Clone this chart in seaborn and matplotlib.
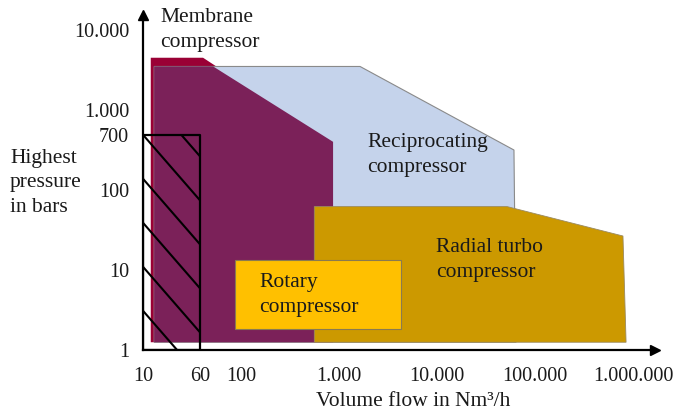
import numpy as np
import pandas as pd
import matplotlib
matplotlib.use("Agg")
import matplotlib.pyplot as plt
import matplotlib.transforms as mtransforms
from matplotlib.patches import Rectangle, Polygon
import seaborn as sns

# ---------------- data ----------------
membrane_x = [12, 12, 41, 870, 870]
membrane_y = [1.25, 4500, 4500, 390, 1.25]

recip_x = [13, 13, 1640, 61000, 64000]
recip_y = [1.25, 3500, 3500, 316, 1.25]

piston_x = [13, 13, 52, 870, 870]
piston_y = [1.25, 3500, 3500, 400, 1.25]

radial_x = [560, 560, 52000, 790000, 850000]
radial_y = [1.25, 62, 62, 26.6, 1.25]

rotary_x = [87, 4300]
rotary_y = [1.83, 13.3]

hatch_x = [10, 38]
hatch_y = [1, 490]

xtick_vals = [10, 38, 100, 1000, 10000, 100000, 1000000]
xtick_labels = ["10", "60", "100", "1.000", "10.000", "100.000", "1.000.000"]
ytick_vals = [1, 10, 100, 490, 1000, 10000]
ytick_labels = ["1", "10", "100", "700", "1.000", "10.000"]

# ---------------- style ----------------
sns.set_theme(style="white")
plt.rcParams['font.family'] = ['Liberation Serif', 'DejaVu Serif']
FS = 15.5
TFS = 14.5
TXT = "#1a1a1a"
LS = 1.38

fig = plt.figure(figsize=(6.78, 4.16), dpi=100)
W, H = 678, 416
ax = fig.add_axes([143 / W, 66 / H, 512 / W, 335 / H])
ax.set_xscale("log")
ax.set_yscale("log")
ax.set_xlim(10, 10 ** (1 + 512 / 98))
ax.set_ylim(1, 10 ** (335 / 80))

# polygons
ax.add_patch(Polygon(list(zip(membrane_x, membrane_y)), closed=True,
                     facecolor="#9a0035", edgecolor="none", zorder=1))
ax.add_patch(Polygon(list(zip(recip_x, recip_y)), closed=True,
                     facecolor="#c5d3eb", edgecolor="#8a8a8a", lw=0.8, zorder=2))
ax.add_patch(Polygon(list(zip(piston_x, piston_y)), closed=True,
                     facecolor="#7b2159", edgecolor="none", zorder=3))
ax.add_patch(Polygon(list(zip(radial_x, radial_y)), closed=True,
                     facecolor="#cc9900", edgecolor="#9a8a60", lw=0.6, zorder=4))
ax.add_patch(Rectangle((rotary_x[0], rotary_y[0]), rotary_x[1] - rotary_x[0],
                       rotary_y[1] - rotary_y[0], facecolor="#ffc000",
                       edgecolor="#8a7a50", lw=0.8, zorder=5))

# hatched box outline (seaborn)
box = pd.DataFrame({
    "x": [hatch_x[0], hatch_x[0], hatch_x[1], hatch_x[1], hatch_x[0]],
    "y": [hatch_y[0], hatch_y[1], hatch_y[1], hatch_y[0], hatch_y[0]],
})
sns.lineplot(data=box, x="x", y="y", sort=False, estimator=None,
             color="black", lw=1.6, ax=ax, zorder=6)
clip_rect = Rectangle((hatch_x[0], hatch_y[0]), hatch_x[1] - hatch_x[0],
                      hatch_y[1] - hatch_y[0], facecolor="none",
                      edgecolor="none", transform=ax.transData)
ax.add_patch(clip_rect)

# hatch lines in pixel space
p0 = ax.transData.transform((hatch_x[0], hatch_y[0]))
p1 = ax.transData.transform((hatch_x[1], hatch_y[1]))
slope = 1.15
spacing = 44
for k in range(-3, 8):
    ys = p1[1] - spacing * k
    xa, xb = p0[0] - 5, p1[0] + 60
    ya = ys + slope * 5
    yb = ys - slope * (xb - p0[0])
    ln, = ax.plot([xa, xb], [ya, yb], color="black", lw=1.5,
                  transform=mtransforms.IdentityTransform(), zorder=6)
    ln.set_clip_path(clip_rect)

# axes styling
for s in ["top", "right"]:
    ax.spines[s].set_visible(False)
for s in ["left", "bottom"]:
    ax.spines[s].set_color("black")
    ax.spines[s].set_linewidth(1.6)
    ax.spines[s].set_zorder(7)
ax.xaxis.set_minor_locator(matplotlib.ticker.NullLocator())
ax.yaxis.set_minor_locator(matplotlib.ticker.NullLocator())
ax.set_xticks(xtick_vals)
ax.set_xticklabels(xtick_labels)
ax.set_yticks(ytick_vals)
ax.set_yticklabels(ytick_labels)
ax.tick_params(axis="both", direction="inout", length=12, width=1.6,
               colors="black", labelcolor=TXT, labelsize=TFS)
ax.tick_params(axis="y", pad=4)
ax.tick_params(axis="x", pad=6)
ax.set_xlabel("")
ax.set_ylabel("")
ax.grid(False)
ax.set_facecolor("white")

# arrow heads
ax.plot(1, 0, marker=">", color="black", markersize=7, transform=ax.transAxes,
        clip_on=False, zorder=8)
ax.plot(0, 1, marker="^", color="black", markersize=7, transform=ax.transAxes,
        clip_on=False, zorder=8)

# labels
ax.text(14.9, 10000, "Membrane\ncompressor", ha="left", va="center",
        fontsize=FS, color=TXT, linespacing=LS, zorder=9, clip_on=False)
ax.text(1930, 274, "Reciprocating\ncompressor", ha="left", va="center",
        fontsize=FS, color=TXT, linespacing=LS, zorder=9)
ax.text(9800, 13.3, "Radial turbo\ncompressor", ha="left", va="center",
        fontsize=FS, color=TXT, linespacing=LS, zorder=9)
ax.text(153, 4.87, "Rotary\ncompressor", ha="left", va="center",
        fontsize=FS, color=TXT, linespacing=LS, zorder=9)

fig.text(10 / W, 1 - 183 / H, "Highest\npressure\nin bars", ha="left",
         va="center", fontsize=FS, color=TXT, linespacing=LS)
fig.text(413 / W, 1 - 401 / H, "Volume flow in Nm\u00b3/h", ha="center",
         va="center", fontsize=FS, color=TXT)

fig.savefig("out.png", dpi=100)
